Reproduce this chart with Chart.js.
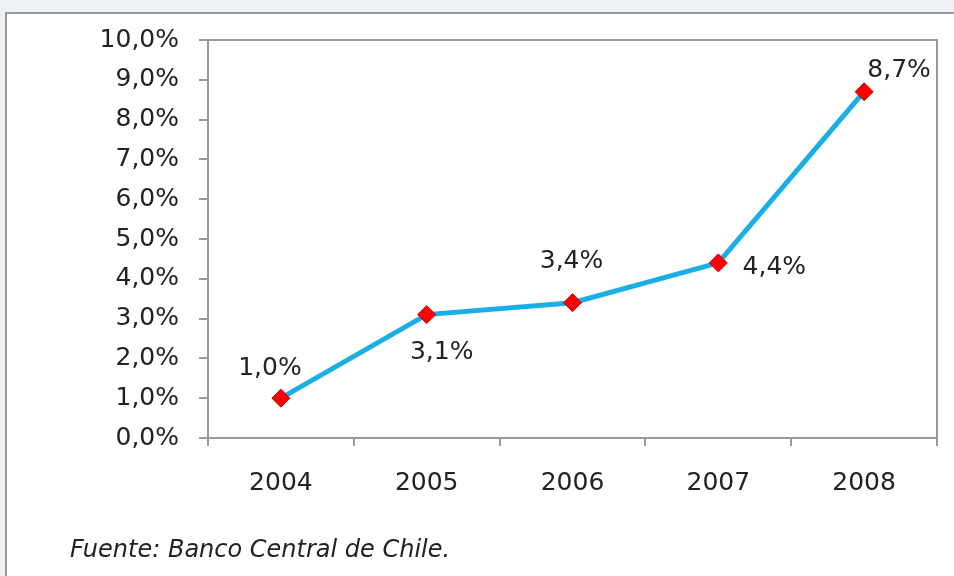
<!DOCTYPE html>
<html>
<head>
<meta charset="utf-8">
<script src="https://cdn.jsdelivr.net/npm/chart.js@4.4.1/dist/chart.umd.min.js"></script>
<style>
    html, body { margin: 0; padding: 0; }
    body { width: 954px; height: 576px; background: #eef2f6; position: relative; overflow: hidden; }
    #marco { position: absolute; left: 5px; top: 12px; width: 960px; height: 580px; background: #fff; border: 2px solid #9a9a9a; }
    #grafico { position: absolute; left: 0; top: 0; }
    #fuente { position: absolute; left: 70px; top: 535px; font: italic 24px "DejaVu Sans", sans-serif; color: #222; }
</style>
</head>
<body>
<div id="marco"></div>
<canvas id="grafico" width="954" height="576"></canvas>
<div id="fuente">Fuente: Banco Central de Chile.</div>
<script>
// Datos del gráfico
const anios = ['2004', '2005', '2006', '2007', '2008'];
const valores = [1.0, 3.1, 3.4, 4.4, 8.7];
const etiquetas = ['1,0%', '3,1%', '3,4%', '4,4%', '8,7%'];

// Desplazamiento de cada etiqueta respecto al punto (solo estilo)
const desplazamientos = [[-11, -30], [15, 38], [-1, -41], [56, 5], [35, -21]];

const fuente = '"DejaVu Sans", sans-serif';

// Dibuja las etiquetas de valor junto a cada punto
const etiquetasPlugin = {
    id: 'etiquetas',
    afterDatasetsDraw(chart) {
        const ctx = chart.ctx;
        const meta = chart.getDatasetMeta(0);
        ctx.save();
        ctx.font = '25px ' + fuente;
        ctx.fillStyle = '#222';
        ctx.textAlign = 'center';
        ctx.textBaseline = 'middle';
        meta.data.forEach((p, i) => {
            ctx.fillText(etiquetas[i], p.x + desplazamientos[i][0], p.y + desplazamientos[i][1]);
        });
        ctx.restore();
    }
};

// Borde superior y derecho del área de trazado
const bordePlugin = {
    id: 'borde',
    beforeDatasetsDraw(chart) {
        const a = chart.chartArea;
        const ctx = chart.ctx;
        ctx.save();
        ctx.strokeStyle = '#999';
        ctx.lineWidth = 2;
        ctx.beginPath();
        ctx.moveTo(a.left, a.top);
        ctx.lineTo(a.right, a.top);
        ctx.lineTo(a.right, a.bottom);
        ctx.stroke();
        ctx.restore();
    }
};

new Chart(document.getElementById('grafico').getContext('2d'), {
    type: 'line',
    data: {
        labels: anios,
        datasets: [{
            data: valores,
            borderColor: '#1aaee6',
            borderWidth: 5,
            pointStyle: 'rectRot',
            pointRadius: 9,
            pointBackgroundColor: '#ff0000',
            pointBorderColor: '#c00000',
            pointBorderWidth: 1,
            tension: 0
        }]
    },
    options: {
        responsive: false,
        animation: false,
        layout: { padding: { top: 40, right: 17, left: 0, bottom: 0 } },
        plugins: {
            legend: { display: false },
            tooltip: { enabled: false }
        },
        scales: {
            x: {
                offset: true,
                grid: { offset: true, drawOnChartArea: false, tickLength: 8, color: '#999', lineWidth: 2 },
                border: { display: true, color: '#999', width: 2 },
                ticks: { font: { family: fuente, size: 25 }, color: '#222', padding: 22 },
                afterFit(scale) { scale.height = 138; }
            },
            y: {
                min: 0,
                max: 10,
                grid: { drawOnChartArea: false, tickLength: 9, color: '#999', lineWidth: 2 },
                border: { display: true, color: '#999', width: 2 },
                ticks: {
                    stepSize: 1,
                    font: { family: fuente, size: 25 },
                    color: '#222',
                    padding: 20,
                    callback: v => v.toFixed(1).replace('.', ',') + '%'
                },
                afterFit(scale) { scale.width = 208; }
            }
        }
    },
    plugins: [bordePlugin, etiquetasPlugin]
});
</script>
</body>
</html>
